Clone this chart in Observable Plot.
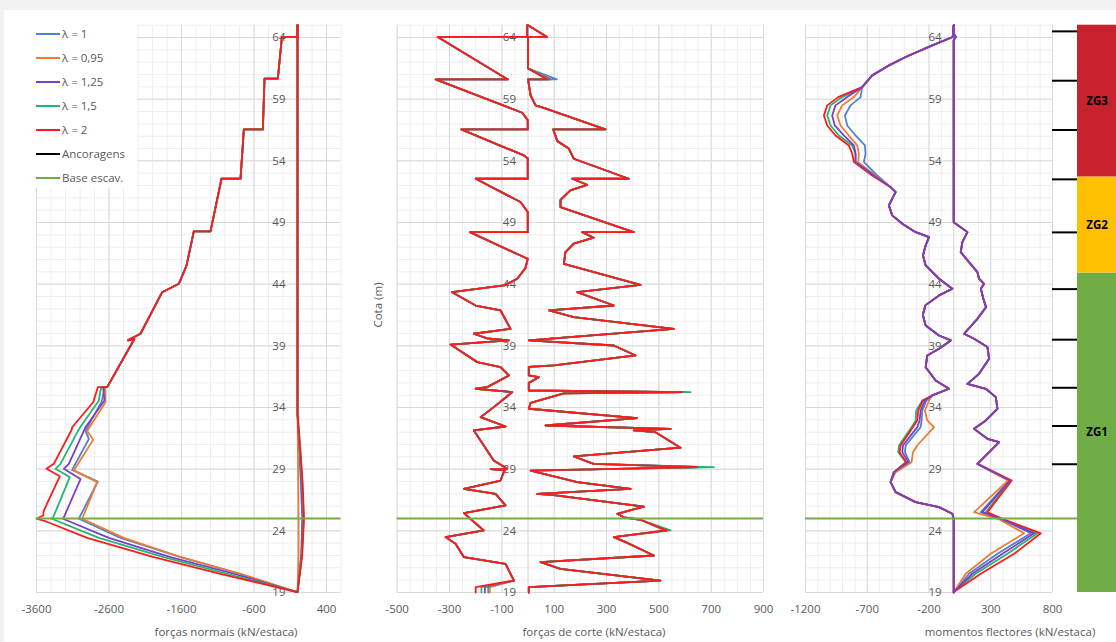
<!DOCTYPE html>
<html lang="pt">
<head>
<meta charset="utf-8">
<title>Esforços na estaca</title>
<script src="https://cdn.jsdelivr.net/npm/d3@7"></script>
<script src="https://cdn.jsdelivr.net/npm/@observablehq/plot@0.6"></script>
<style>
  html, body { margin: 0; padding: 0; }
  body { width: 1116px; height: 642px; background: #f2f2f2; position: relative; overflow: hidden;
         font-family: "Open Sans", "DejaVu Sans", sans-serif; color: #595959; }
  #sheet { position: absolute; left: 4px; top: 10px; right: 0; bottom: 0; background: #fff; }
  .panel { position: absolute; top: 0; height: 642px; }
  .panel svg { display: block; overflow: visible; }
  .xtitle { position: absolute; top: 624px; font-size: 11.5px; line-height: 16px; white-space: nowrap; transform: translateX(-50%); }
  #ytitle { position: absolute; left: 377px; top: 305px; font-size: 11.5px; white-space: nowrap;
            transform: translate(-50%, -50%) rotate(-90deg); }
  #legend { position: absolute; left: 36px; top: 24px; width: 101px; height: 164px; background: #fff; }
  #legend .row { position: absolute; left: 0; height: 20px; line-height: 20px; font-size: 11.5px; white-space: nowrap; }
  #legend .sw { position: absolute; left: 0; top: 9px; width: 24px; height: 2px; }
  #legend .lab { position: absolute; left: 26px; top: 0; }
</style>
</head>
<body>
<div id="sheet"></div>
<div id="p1" class="panel"></div>
<div id="p2" class="panel"></div>
<div id="p3" class="panel"></div>
<div id="p4" class="panel"></div>
<div id="legend"></div>
<div id="ytitle">Cota (m)</div>
<div class="xtitle" style="left:226px">forças normais (kN/estaca)</div>
<div class="xtitle" style="left:594px">forças de corte (kN/estaca)</div>
<div class="xtitle" style="left:1010px">momentos flectores (kN/estaca)</div>
<script>
// ---- series and reference levels ----
const lambdas = ["λ = 1", "λ = 0,95", "λ = 1,25", "λ = 1,5", "λ = 2"];
const lambdaColors = ["#4f81d6", "#ed7d31", "#7b3fc4", "#22b573", "#ff1a1a"];
const baseEscav = 25.0;
const ancoragens = [64.5, 60.5, 56.5, 52.5, 48.2, 43.6, 39.5, 35.6, 32.5, 29.4];
const zoneNames = ["ZG1", "ZG2", "ZG3"];
const zoneFrom = [19, 44.9, 52.7];
const zoneTo = [44.9, 52.7, 65];
const zoneColors = ["#70ad47", "#ffc000", "#c9222f"];

// ---- tick labels ----
const cotaTicks = [19, 24, 29, 34, 39, 44, 49, 54, 59, 64];
const nTicks = [-3600, -2600, -1600, -600, 400];
const vTicks = [-500, -300, -100, 100, 300, 500, 700, 900];
const mTicks = [-1200, -700, -200, 300, 800];

// ---- forças normais: envelope minimo (escalonado nas ancoragens) ----
const nTopCota = [65, 64.05, 64.05, 60.66, 60.66, 56.55, 56.55, 52.55, 52.55, 48.28, 48.28, 45.5, 44.03, 43.35, 39.98, 39.45, 39.55, 35.65];
const nTopVal  = [0, 0, -215, -271, -455, -478, -740, -786, -1048, -1200, -1430, -1531, -1637, -1866, -2166, -2340, -2250, -2625];
const nLowCota = [
  [35.65, 34.5, 32.1, 31.45, 28.94, 28.0, 24.98, 23.43, 21.86, 20.52, 19.03],
  [35.65, 34.43, 32.1, 31.38, 28.9, 27.95, 24.98, 23.43, 21.86, 20.52, 19.03],
  [35.65, 34.57, 32.4, 32.1, 29.43, 29.03, 28.2, 25.1, 24.98, 23.43, 21.86, 20.52, 19.03],
  [35.65, 35.38, 34.57, 32.36, 32.08, 29.43, 29.03, 28.35, 25.1, 24.98, 23.43, 21.86, 20.52, 19.03],
  [35.65, 34.43, 32.4, 32.2, 29.43, 29.03, 28.43, 25.65, 25.24, 24.98, 24.78, 23.43, 21.86, 20.52, 19.03]
];
const nLowVal = [
  [-2660, -2700, -2924, -2878, -3108, -2754, -3016, -2441, -1614, -800, -4],
  [-2650, -2648, -2901, -2818, -3085, -2763, -2970, -2396, -1600, -786, -4],
  [-2680, -2662, -2924, -2947, -3154, -3223, -2993, -3223, -3235, -2602, -1752, -878, -4],
  [-2700, -2717, -2740, -3002, -3030, -3269, -3338, -3140, -3370, -3390, -2740, -1844, -970, -4],
  [-2754, -2818, -3108, -3115, -3361, -3462, -3278, -3498, -3508, -3600, -3476, -2901, -1982, -1062, -4]
];
// envelope maximo
const nMaxCota = [65, 33.5, 31, 28, 25, 22, 19.03];
const nMaxVal = [
  [0, 0, 20, 45, 65, 50, 0],
  [0, 0, 5, 10, 15, 15, 0],
  [0, 0, 25, 55, 75, 55, 0],
  [0, 0, 30, 65, 85, 60, 0],
  [0, 0, 35, 70, 90, 65, 0]
];

// ---- forças de corte ----
const vMinCota = [65, 64.05, 64.05, 60.6, 60.6, 57.9, 57.3, 56.55, 56.55, 54.44, 54.2, 52.55, 52.55, 50.66, 49.85, 48.22, 48.22, 46.33, 46.06, 45.3, 44.44, 43.9, 43.35, 42.27, 41.87, 40.38, 39.98, 39.6, 39.44, 39.1, 37.68, 37.27, 36.6, 35.65, 35.52, 35.25, 34.03, 33.22, 32.46, 32.14, 29.7, 29.03, 29.0, 28.9, 28.08, 27.41, 27.0, 26.06, 25.44, 24.03, 23.49, 22.95, 21.86, 21.32, 19.97, 19.43, 19.0];
const vMinVal  = [-3, -3, -345, -77, -353, -22, -1, -1, -255, -16, -1, -1, -200, -29, -1, -1, -222, -29, -1, -10, -41, -92, -290, -200, -105, -67, -207, -156, -73, -296, -194, -105, -73, -156, -200, -60, -131, -181, -86, -207, -131, -80, -143, -90, -105, -245, -124, -86, -245, -169, -315, -277, -245, -86, -54, -200, -200];
const vMinFoot = [-152, -146, -165, -178, -200];
const vMaxCota = [65, 64.05, 64.05, 61.5, 60.6, 60.6, 59.3, 58.5, 58.3, 56.55, 56.55, 55.6, 55.0, 54.17, 52.55, 52.55, 52.06, 51.6, 50.84, 50.25, 48.22, 48.22, 47.77, 47.28, 46.6, 45.65, 43.95, 43.35, 42.27, 41.87, 41.33, 40.38, 39.44, 39.03, 38.22, 37.41, 37.3, 36.6, 36.46, 36.0, 35.38, 35.25, 35.15, 34.38, 33.9, 33.14, 32.54, 32.27, 32.14, 32.0, 30.74, 30.03, 29.43, 29.16, 28.89, 27.95, 27.41, 27.0, 26.9, 25.97, 25.38, 25.1, 24.9, 24.03, 23.49, 23.08, 22.0, 21.46, 20.92, 19.97, 19.43, 19.0];
const vMaxVal  = [0, 73, 0, 0, 73, 0, 10, 29, 60, 296, 96, 112, 156, 175, 385, 169, 226, 162, 124, 124, 404, 207, 251, 175, 143, 137, 430, 188, 328, 80, 175, 557, 3, 328, 411, 99, 3, 3, 41, 3, 3, 589, 137, 10, 3, 417, 67, 545, 404, 487, 583, 175, 251, 647, 10, 188, 392, 35, 99, 443, 341, 366, 430, 532, 328, 373, 481, 48, 124, 506, 3, 3];
const vMaxPeakCota = [60.6, 35.25, 29.16, 24.03];
const vMaxPeak = [
  [110, 600, 660, 525],
  [90, 595, 650, 520],
  [85, 605, 680, 530],
  [80, 621, 710, 545],
  [73, 589, 647, 532]
];

// ---- momentos flectores ----
const mMinTopCota = [65, 64.04, 63.36, 62.42, 61.74, 60.93, 59.98];
const mMinTopVal  = [0, -8, -173, -389, -525, -660, -741];
const mMinMidCota = [59.17, 58.5, 57.68, 56.87, 56.06, 55.25, 54.58, 53.9, 52.82];
const mMinMid = [
  [-754, -835, -881, -862, -795, -719, -714, -727, -619],
  [-808, -903, -943, -916, -849, -781, -768, -773, -633],
  [-862, -957, -984, -963, -890, -808, -795, -795, -646],
  [-903, -997, -1024, -997, -930, -822, -795, -795, -646],
  [-935, -1024, -1051, -1024, -957, -849, -822, -808, -660]
];
const mMinCenCota = [51.87, 51.47, 51.2, 50.39, 49.58, 48.9, 48.22, 47.82, 47.14, 46.33, 45.52, 44.44, 43.63, 43.09, 42.28, 41.5, 40.65, 39.84, 39.44, 38.76, 38.22, 37.27, 36.19, 35.52, 34.98];
const mMinCenVal  = [-511, -470, -484, -525, -498, -416, -308, -200, -227, -249, -227, -119, -11, -119, -230, -250, -227, -119, -24, -119, -214, -227, -146, -38, -173];
const mMinLowCota = [34.57, 33.76, 32.95, 32.41, 30.92, 30.38, 29.57, 28.76];
const mMinLow = [
  [-222, -254, -260, -268, -389, -395, -357, -481],
  [-200, -233, -214, -160, -295, -330, -341, -470],
  [-233, -268, -276, -295, -411, -416, -368, -484],
  [-254, -303, -308, -341, -443, -449, -389, -484],
  [-249, -287, -295, -330, -430, -438, -384, -484]
];
const mMinFootCota = [27.95, 27.14, 26.33, 25.92, 25.38, 25.0, 19.0];
const mMinFootVal  = [-511, -470, -308, -119, -11, 0, 0];
const mMaxTopCota = [65, 64.3, 64.05, 63.8, 49.03, 48.22, 47.41, 46.6, 45.79, 44.98, 44.44, 44.03, 43.63, 42.82, 42.14, 41.19, 39.98, 39.57, 38.9, 37.95, 36.73, 35.92, 35.52, 34.84, 33.9, 32.95, 32.27, 31.46, 31.19, 29.43];
const mMaxTopVal  = [0, 0, 18, 0, 0, 111, 70, 57, 124, 192, 205, 246, 220, 240, 262, 192, 84, 165, 273, 287, 205, 111, 260, 341, 354, 260, 165, 273, 368, 192];
const mMaxLowCota = [28.08, 25.51, 24.92, 23.8, 22.14, 20.52, 19.03];
const mMaxLow = [
  [450, 219, 390, 624, 354, 124, 0],
  [440, 165, 370, 570, 300, 97, 0],
  [455, 232, 395, 651, 395, 151, 0],
  [462, 260, 400, 678, 435, 178, 0],
  [470, 273, 410, 706, 489, 219, 0]
];

// ---- series assembly ----
const pts = (cotas, vals) => cotas.map((c, i) => ({c, v: vals[i]}));
const nMin = i => pts(nTopCota.concat(nLowCota[i]), nTopVal.concat(nLowVal[i]));
const nMax = i => pts(nMaxCota, nMaxVal[i]);
const vMin = i => {
  const vals = vMinVal.slice();
  vals[vals.length - 1] = vals[vals.length - 2] = vMinFoot[i];
  return pts(vMinCota, vals);
};
const vMax = i => {
  const vals = vMaxVal.slice();
  vMaxPeakCota.forEach((c, k) => { vals[vMaxCota.indexOf(c)] = vMaxPeak[i][k]; });
  return pts(vMaxCota, vals);
};
const mMin = i => pts(
  [].concat(mMinTopCota, mMinMidCota, mMinCenCota, mMinLowCota, mMinFootCota),
  [].concat(mMinTopVal, mMinMid[i], mMinCenVal, mMinLow[i], mMinFootVal));
const mMax = i => pts(mMaxTopCota.concat(mMaxLowCota), mMaxTopVal.concat(mMaxLow[i]));

// drawing order (last on top)
const orderNV = [0, 1, 2, 3, 4];
const orderM = [0, 1, 3, 4, 2];

// ---- layout ----
const H = 642, MT = 24.7, MB = 50;
const cotaMinor = d3.range(19, 65.001, 1);
const gray = "#595959";
const fontFamily = '"Open Sans", "DejaVu Sans", sans-serif';

function curves(order, ...fns) {
  const marks = [];
  for (const i of order) for (const f of fns) {
    marks.push(Plot.line(f(i), {x: "v", y: "c", stroke: lambdaColors[i], strokeWidth: 1.8, strokeLinejoin: "round"}));
  }
  return marks;
}

function panel(id, left, width, marginLeft, marginRight, xDomain, xMinor, xTicks, dataMarks) {
  const el = document.getElementById(id);
  el.style.left = left + "px";
  el.style.width = width + "px";
  const svg = Plot.plot({
    width, height: H, marginLeft, marginRight, marginTop: MT, marginBottom: MB,
    style: {background: "transparent", fontFamily, fontSize: "11.5px", color: gray, overflow: "visible"},
    x: {domain: xDomain, label: null},
    y: {domain: [19, 65], axis: null, label: null},
    marks: [
      Plot.gridY(cotaMinor, {stroke: "#eeeeee", strokeOpacity: 1}),
      Plot.gridX(xMinor, {stroke: "#eeeeee", strokeOpacity: 1}),
      Plot.gridY(cotaTicks, {stroke: "#d9d9d9", strokeOpacity: 1}),
      Plot.gridX(xTicks, {stroke: "#d9d9d9", strokeOpacity: 1}),
      Plot.ruleX([0], {stroke: "#d9d9d9"}),
      Plot.axisX(xTicks, {tickSize: 0, tickPadding: 12, tickFormat: d => String(d), label: null, fill: gray}),
      Plot.text(cotaTicks, {x: () => 0, y: d => d, text: d => String(d), textAnchor: "end", dx: -12, fill: gray, fontSize: 11.5}),
      ...dataMarks,
      Plot.ruleY([baseEscav], {stroke: "#70ad47", strokeWidth: 2})
    ]
  });
  el.appendChild(svg);
}

panel("p1", 0, 346, 36, 5.5, [-3600, 600], d3.range(-3600, 600.001, 200), nTicks,
  curves(orderNV, nMin, nMax));
panel("p2", 380, 395, 16.7, 12, [-500, 900], d3.range(-500, 900.001, 50), vTicks,
  curves(orderNV, vMin, vMax));
panel("p3", 780, 290, 25, 18, [-1200, 800], d3.range(-1200, 800.001, 100), mTicks,
  curves(orderM, mMin, mMax));

// zonas geotécnicas e ancoragens
const zones = zoneNames.map((name, i) => ({name, from: zoneFrom[i], to: zoneTo[i], color: zoneColors[i]}));
const p4 = document.getElementById("p4");
p4.style.left = "1052px";
p4.style.width = "64px";
p4.appendChild(Plot.plot({
  width: 64, height: H, marginLeft: 0, marginRight: 0, marginTop: MT, marginBottom: MB,
  style: {background: "transparent", fontFamily, fontSize: "11.5px", overflow: "visible"},
  x: {domain: [0, 64], axis: null},
  y: {domain: [19, 65], axis: null},
  color: {type: "identity"},
  marks: [
    Plot.rect(zones, {x1: () => 25, x2: () => 64, y1: "from", y2: "to", fill: "color"}),
    Plot.text(zones, {x: () => 44.5, y: d => (d.from + d.to) / 2, text: "name", fill: "#000", fontWeight: "bold", fontSize: 11.5}),
    Plot.ruleY(ancoragens, {x1: () => 0, x2: () => 25, stroke: "#000", strokeWidth: 2}),
    Plot.ruleY([baseEscav], {x1: () => 0, x2: () => 25, stroke: "#70ad47", strokeWidth: 2})
  ]
}));

// legenda
const legendItems = lambdas.map((t, i) => ({t, c: lambdaColors[i]}))
  .concat([{t: "Ancoragens", c: "#000"}, {t: "Base escav.", c: "#70ad47"}]);
const legend = document.getElementById("legend");
legendItems.forEach((d, i) => {
  const row = document.createElement("div");
  row.className = "row";
  row.style.top = (0.3 + 23.9 * i) + "px";
  row.innerHTML = `<span class="sw" style="background:${d.c}"></span><span class="lab">${d.t}</span>`;
  legend.appendChild(row);
});
</script>
</body>
</html>
